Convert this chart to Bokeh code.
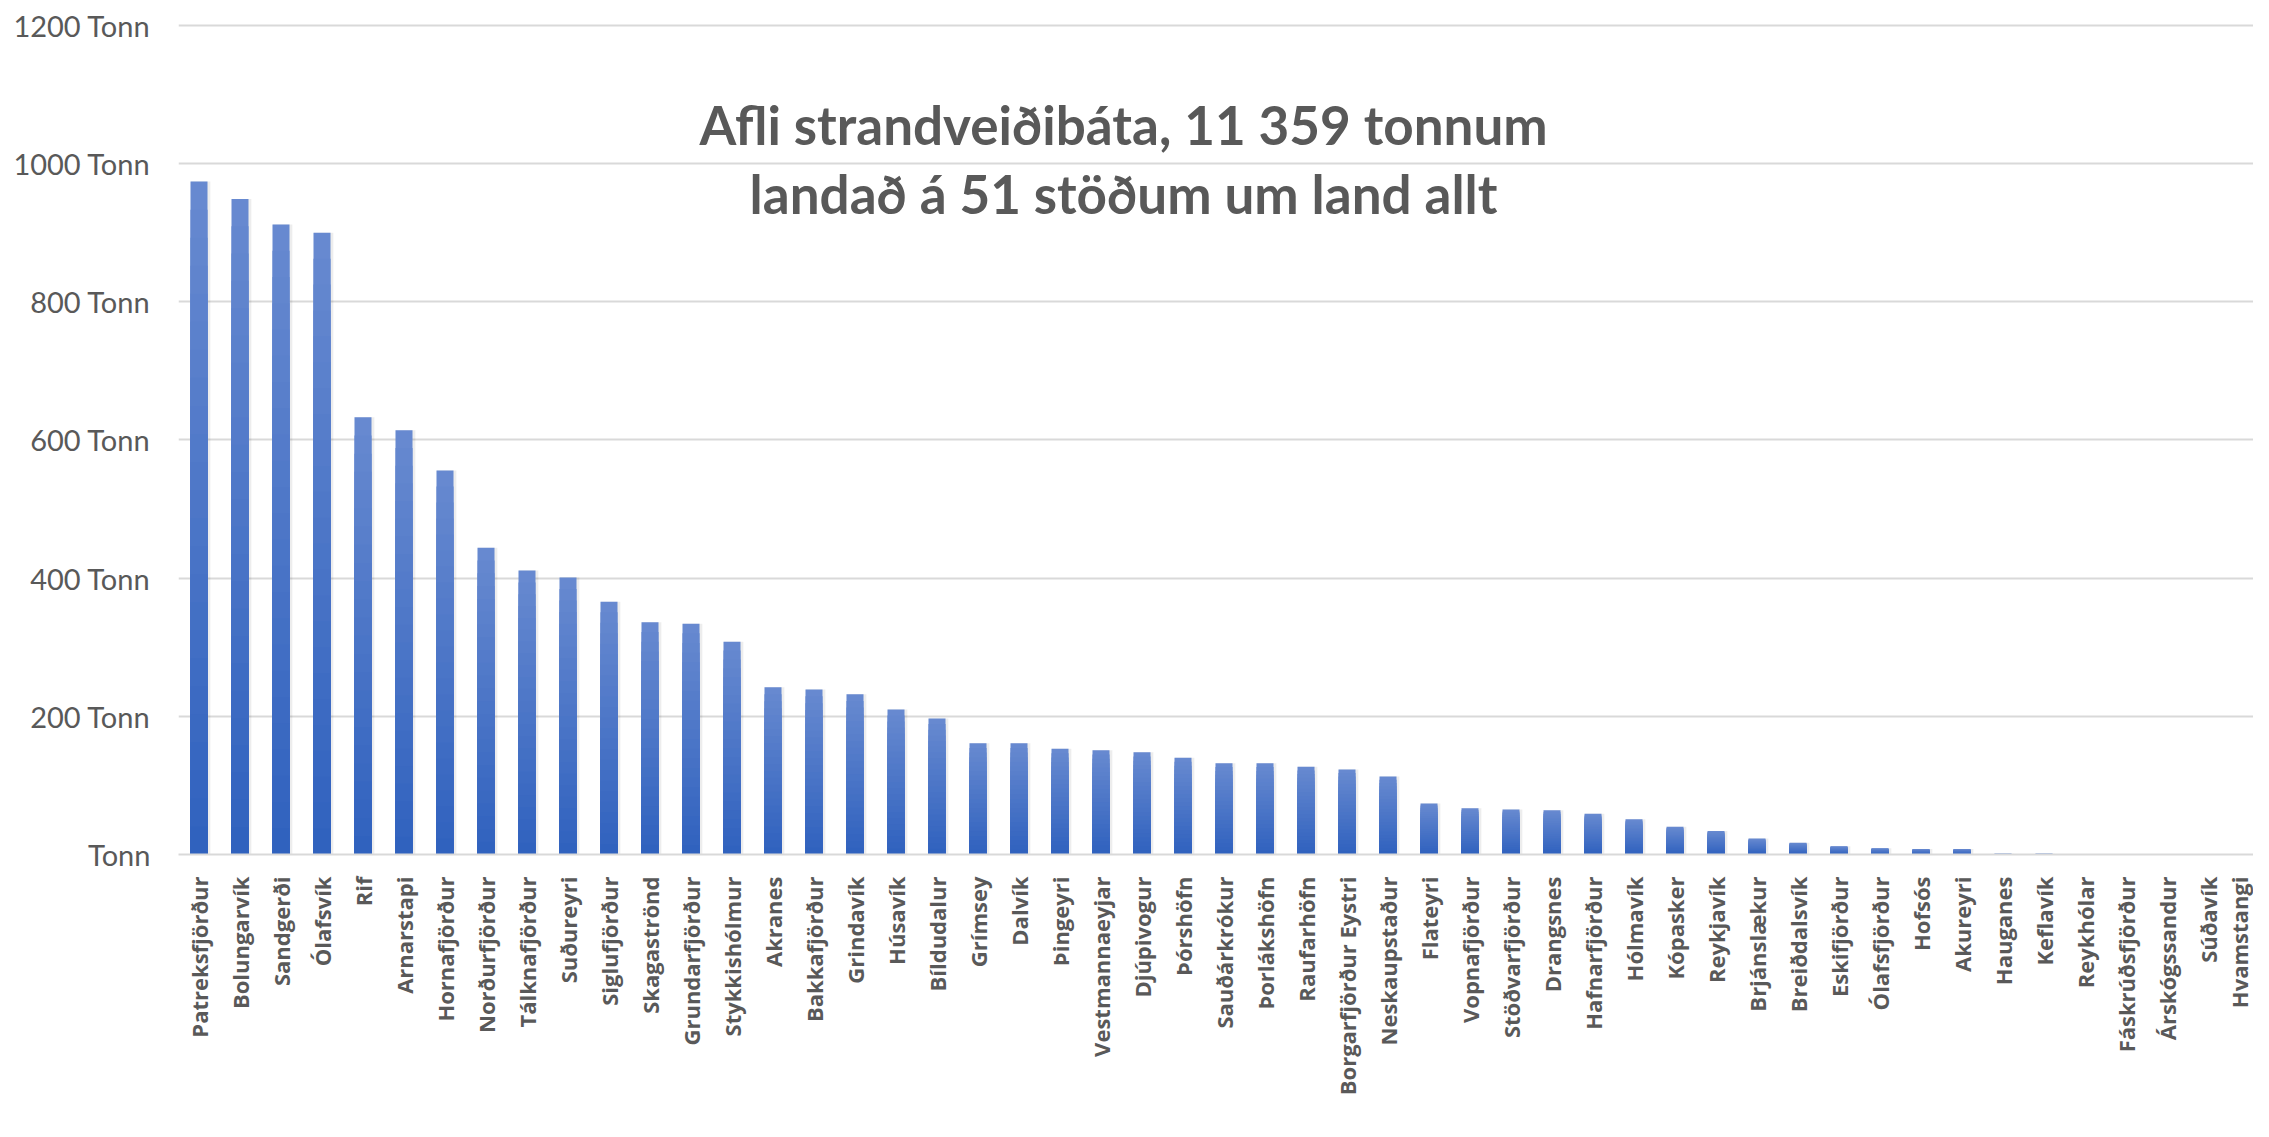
import math
from bokeh.plotting import figure
from bokeh.models import Range1d, FixedTicker, Label, ColumnDataSource
from bokeh.embed import file_html
from bokeh.resources import INLINE

stations = [
    "Patreksfjörður", "Bolungarvík", "Sandgerði", "Ólafsvík", "Rif", "Arnarstapi",
    "Hornafjörður", "Norðurfjörður", "Tálknafjörður", "Suðureyri", "Siglufjörður",
    "Skagaströnd", "Grundarfjörður", "Stykkishólmur", "Akranes", "Bakkafjörður",
    "Grindavík", "Húsavík", "Bíldudalur", "Grímsey", "Dalvík", "Þingeyri",
    "Vestmannaeyjar", "Djúpivogur", "Þórshöfn", "Sauðárkrókur", "Þorlákshöfn",
    "Raufarhöfn", "Borgarfjörður Eystri", "Neskaupstaður", "Flateyri", "Vopnafjörður",
    "Stöðvarfjörður", "Drangsnes", "Hafnarfjörður", "Hólmavík", "Kópasker",
    "Reykjavík", "Brjánslækur", "Breiðdalsvík", "Eskifjörður", "Ólafsfjörður",
    "Hofsós", "Akureyri", "Hauganes", "Keflavík", "Reykhólar", "Fáskrúðsfjörður",
    "Árskógssandur", "Súðavík", "Hvamstangi",
]
catch_tonnes = [
    974, 949, 912, 900, 633, 614, 556, 444, 411, 401, 366,
    336, 334, 308, 242, 239, 232, 210, 197, 161, 161, 153,
    151, 148, 140, 132, 132, 127, 123, 113, 74, 67,
    65, 64, 59, 51, 40, 34, 23, 17, 12, 9,
    8, 8, 1, 1, 0, 0, 0, 0, 0,
]
y_ticks = [0, 200, 400, 600, 800, 1000, 1200]
y_tick_labels = ["Tonn", "200 Tonn", "400 Tonn", "600 Tonn", "800 Tonn", "1000 Tonn", "1200 Tonn"]
title_lines = ["Afli strandveiðibáta, 11 359 tonnum", "landað á 51 stöðum um land allt"]

TEXT = "#595959"
GRID = "#d9d9d9"
TOP_RGB = (0x68, 0x8a, 0xd0)
BOT_RGB = (0x2f, 0x61, 0xbe)
N_SEG = 24
BAR_W = 0.415

xs = list(range(len(stations)))

p = figure(width=2253, height=1121, output_backend="svg", toolbar_location=None,
           x_range=Range1d(-0.5, 50.11), y_range=Range1d(0, 1204.3),
           min_border_left=178, min_border_right=0, min_border_top=22,
           min_border_bottom=267, background_fill_color="white",
           border_fill_color="white")
p.outline_line_color = None

# shadow
p.vbar(x=[x + 0.04 for x in xs], top=catch_tonnes, width=BAR_W + 0.06,
       fill_color="#000000", fill_alpha=0.07, line_color=None)

# gradient bars (stacked overlapping segments, tallest first)
seg_x, seg_top, seg_col = [], [], []
for k in range(N_SEG - 1, -1, -1):
    t = (k + 0.5) / N_SEG
    r = round(BOT_RGB[0] + (TOP_RGB[0] - BOT_RGB[0]) * t)
    g = round(BOT_RGB[1] + (TOP_RGB[1] - BOT_RGB[1]) * t)
    b = round(BOT_RGB[2] + (TOP_RGB[2] - BOT_RGB[2]) * t)
    col = "#%02x%02x%02x" % (r, g, b)
    for x, v in zip(xs, catch_tonnes):
        seg_x.append(x)
        seg_top.append(v * (k + 1) / N_SEG)
        seg_col.append(col)
src = ColumnDataSource(dict(x=seg_x, top=seg_top, color=seg_col))
p.vbar(x="x", top="top", bottom=0, width=BAR_W, fill_color="color",
       line_color=None, source=src)

# axes
xa = p.xaxis[0]
xa.ticker = FixedTicker(ticks=xs)
xa.major_label_overrides = {i: s for i, s in enumerate(stations)}
xa.major_label_orientation = math.pi / 2
xa.axis_line_color = GRID
xa.axis_line_width = 2
xa.major_tick_line_color = None
xa.minor_tick_line_color = None
xa.major_label_text_font = "Open Sans"
xa.major_label_text_font_style = "bold"
xa.major_label_text_font_size = "22px"
xa.major_label_text_color = TEXT
xa.major_label_standoff = 16

ya = p.yaxis[0]
ya.ticker = FixedTicker(ticks=y_ticks)
ya.major_label_overrides = dict(zip(y_ticks, y_tick_labels))
ya.axis_line_color = None
ya.major_tick_line_color = None
ya.minor_tick_line_color = None
ya.major_label_text_font = "Lato"
ya.major_label_text_font_size = "29px"
ya.major_label_text_color = TEXT
ya.major_label_standoff = 22

p.xgrid.grid_line_color = None
p.ygrid.grid_line_color = GRID
p.ygrid.grid_line_width = 2
p.ygrid.ticker = FixedTicker(ticks=y_ticks)

for line, ypos in zip(title_lines, [1057, 957]):
    p.add_layout(Label(x=22.55, y=ypos, text=line, text_align="center",
                       text_baseline="alphabetic", text_font="Lato",
                       text_font_style="bold", text_font_size="53px",
                       text_color=TEXT))

open("out.html", "w").write(file_html(p, INLINE))
